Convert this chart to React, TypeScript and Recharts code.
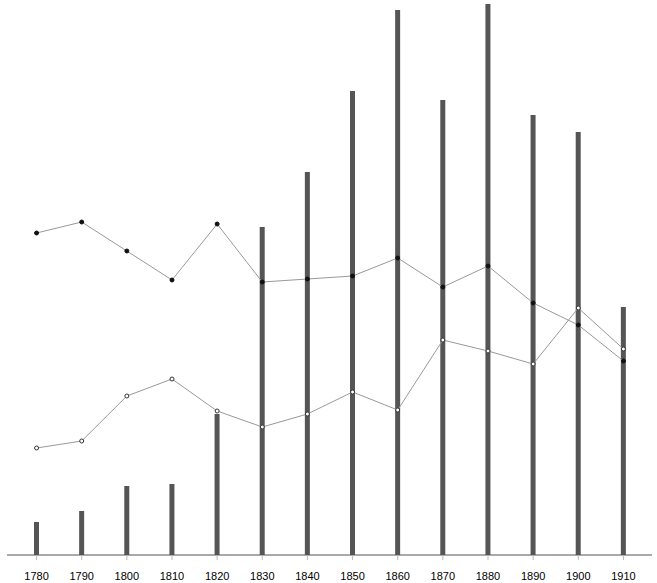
import { ComposedChart, Bar, Line, XAxis, YAxis } from "recharts";

const years = ["1780", "1790", "1800", "1810", "1820", "1830", "1840", "1850", "1860", "1870", "1880", "1890", "1900", "1910"];
const barValues = [33, 44, 69, 71, 141, 328, 383, 464, 545, 455, 551, 440, 423, 248];
const filledLine = [322, 333, 304, 275, 331, 273, 276, 279, 297, 268, 289, 252, 230, 194];
const openLine = [107, 114, 159, 176, 144, 128, 141, 163, 145, 215, 204, 191, 247, 206];

const data = years.map((year, i) => ({
  year,
  bar: barValues[i],
  filled: filledLine[i],
  open: openLine[i],
}));

export default function App() {
  return (
    <div style={{ position: "absolute", left: 0, top: 0, background: "#fff" }}>
      <ComposedChart width={657} height={583} data={data} margin={{ top: 4, right: 5, left: 7, bottom: 0 }}>
        <XAxis
          dataKey="year"
          padding={{ left: 7, right: 6 }}
          stroke="#555"
          tick={{ fontSize: 11, fill: "#000", fontFamily: "'Liberation Sans', Arial, sans-serif" }}
          tickLine={{ stroke: "#bbb" }}
          tickSize={5}
          tickMargin={12}
          interval={0}
          height={28}
        />
        <YAxis hide domain={[0, 551]} />
        <Bar dataKey="bar" fill="#555" barSize={5} isAnimationActive={false} />
        <Line
          dataKey="filled"
          stroke="#999"
          strokeWidth={1}
          dot={{ r: 2, fill: "#111", stroke: "#111", strokeWidth: 1 }}
          isAnimationActive={false}
        />
        <Line
          dataKey="open"
          stroke="#999"
          strokeWidth={1}
          dot={{ r: 2, fill: "#fff", stroke: "#333", strokeWidth: 1 }}
          isAnimationActive={false}
        />
      </ComposedChart>
    </div>
  );
}
